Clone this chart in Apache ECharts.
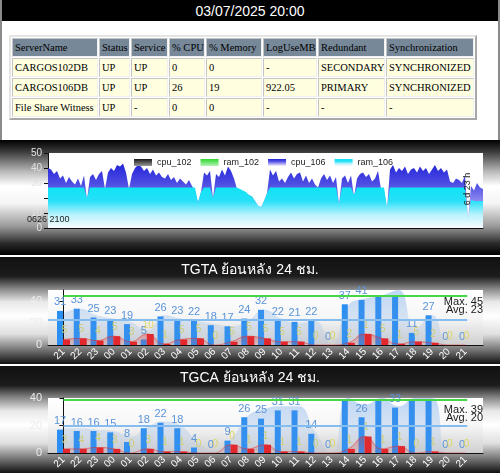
<!DOCTYPE html>
<html>
<head>
<meta charset="utf-8">
<script src="https://cdn.jsdelivr.net/npm/echarts@6/dist/echarts.min.js"></script>
<style>
html, body { margin: 0; padding: 0; background: #fff; }
#page { position: relative; width: 500px; height: 473px; overflow: hidden; background: #fff; }
#frame { position: absolute; left: 0; top: 0; width: 500px; height: 141px; box-sizing: border-box; border: 2px solid #8a8a8a; border-bottom: none; }
#head { position: absolute; left: 2px; top: 0; width: 496px; height: 21px; background: #000; color: #fff;
        font: 14px "Liberation Sans", Arial, sans-serif; text-align: center; line-height: 23px; }
#tbl { position: absolute; left: 9px; top: 35px; width: 468px; table-layout: fixed; border-collapse: separate; border-spacing: 1px;
       border: 2px solid; border-color: #e4e4e4 #a8a8a8 #a8a8a8 #e4e4e4;
       font: 10.5px "Liberation Serif", "Times New Roman", serif; color: #000; }
#tbl td { height: 17px; padding: 0 0 0 2px; border: 1px solid; border-color: #c4c4c4 #f0f0f0 #f0f0f0 #c4c4c4;
          background: #ffffe0; white-space: nowrap; overflow: hidden; }
#tbl tr.h td { background: #778899; }
.panel { position: absolute; left: 0; width: 500px; }
#p1 { top: 140px; height: 115px;
      background: linear-gradient(to bottom, #000 0%, #3a3a3a 10%, #bdbdbd 28%, #fff 40%, #f5f5f5 55%, #9a9a9a 75%, #2a2a2a 90%, #000 100%); }
#p2, #p3 { height: 107px;
      background: linear-gradient(to bottom, #111 0%, #1c1c1c 18%, #8a8a8a 30%, #e8e8e8 42%, #fff 55%, #e0e0e0 72%, #7a7a7a 86%, #111 100%); }
#p2 { top: 257px; }
#p3 { top: 366px; }
</style>
</head>
<body>
<div id="page">
  <div id="frame"></div>
  <div id="head">03/07/2025 20:00</div>
  <table id="tbl">
    <colgroup>
      <col style="width:86px"><col style="width:31px"><col style="width:37px"><col style="width:36px">
      <col style="width:56px"><col style="width:54px"><col style="width:67px"><col style="width:88px">
    </colgroup>
    <tr class="h"><td>ServerName</td><td>Status</td><td>Service</td><td>% CPU</td><td>% Memory</td><td>LogUseMB</td><td>Redundant</td><td>Synchronization</td></tr>
    <tr><td>CARGOS102DB</td><td>UP</td><td>UP</td><td>0</td><td>0</td><td>-</td><td>SECONDARY</td><td>SYNCHRONIZED</td></tr>
    <tr><td>CARGOS106DB</td><td>UP</td><td>UP</td><td>26</td><td>19</td><td>922.05</td><td>PRIMARY</td><td>SYNCHRONIZED</td></tr>
    <tr><td>File Share Witness</td><td>UP</td><td>-</td><td>0</td><td>0</td><td>-</td><td>-</td><td>-</td></tr>
  </table>
  <div id="p1" class="panel"></div>
  <div id="p2" class="panel"></div>
  <div id="p3" class="panel"></div>
</div>
<script>
// ---- performance chart (one point every ~70 min over 6 d 23 h)
const cpu102 = [];
const ram102 = [];
const cpu106 = [
  40, 39, 36, 38, 33, 35, 30, 34, 31, 29,
  33, 28, 35, 19, 34, 36, 32, 36, 38, 26,
  37, 40, 38, 42, 41, 43, 37, 26, 36, 40,
  42, 41, 38, 40, 36, 39, 35, 37, 34, 33,
  36, 32, 34, 30, 33, 31, 29, 32, 28, 25,
  17, 24, 37, 35, 38, 20, 36, 34, 39, 35,
  41, 38, 33, 26, 25, 24, 23, 22, 21, 18,
  15, 14, 18, 23, 39, 35, 38, 31, 33, 30,
  34, 37, 33, 36, 37, 31, 35, 30, 33, 29,
  27, 33, 36, 32, 35, 30, 34, 16, 33, 35,
  30, 35, 21, 33, 36, 37, 34, 36, 31, 33,
  38, 26, 25, 13, 39, 42, 37, 40, 38, 41,
  36, 39, 40, 37, 41, 38, 40, 36, 39, 42,
  38, 40, 37, 39, 31, 30, 33, 32, 30, 35,
  6, 28, 25, 30, 27, 26
];
const ram106 = [
  27, 27, 27, 27, 27, 27, 27, 27, 27, 27,
  27, 27, 27, 20, 27, 27, 27, 27, 27, 27,
  27, 27, 27, 27, 27, 27, 27, 27, 27, 27,
  27, 27, 27, 27, 27, 27, 27, 27, 27, 27,
  27, 27, 27, 27, 27, 27, 27, 27, 27, 27,
  17, 24, 27, 27, 27, 20, 27, 27, 27, 27,
  27, 27, 27, 27, 26, 25, 24, 22, 21, 18,
  15, 14, 18, 23, 27, 27, 27, 27, 27, 27,
  27, 27, 27, 27, 27, 27, 27, 27, 27, 27,
  27, 27, 27, 27, 27, 27, 27, 16, 27, 27,
  27, 27, 22, 27, 27, 27, 27, 27, 27, 27,
  27, 27, 27, 14, 27, 27, 27, 27, 27, 27,
  27, 27, 27, 27, 27, 27, 27, 27, 27, 27,
  27, 27, 27, 27, 27, 27, 27, 27, 27, 27,
  6, 19, 18, 18, 18, 18
];
const perfStart = '0626 2100';
const perfSpan = '6 d 23 h';

// ---- 24 hour charts
const hours = ['21', '22', '23', '00', '01', '02', '03', '04', '05', '06', '07', '08', '09',
               '10', '11', '12', '13', '14', '15', '16', '17', '18', '19', '20', '21'];

const tgtaBlue   = [31, 33, 25, 23, 19, 5, 26, 23, 22, 18, 17, 24, 32, 22, 21, 22, 0, 37, 41, 45, 45, 11, 27, 0, 0];
const tgtaRed    = [5, 6, 4, 8, 3, 10, 1, 5, 6, 0, 3, 8, 6, 3, 3, 0, 0, 2, 10, 6, 1, 3, 2, 0, 0];
const tgtaYellow = [5, 5, 4, 5, 3, 10, 1, 5, 5, 0, 5, 5, 5, 5, 5, 0, 0, 2, 1, 5, 1, 5, 2, 0, 0];
const tgtaArea   = [29, 33, 27, 24, 21, 13, 27, 24, 22, 19, 17, 22, 32, 24, 20, 22, 0, 36, 42, 45, 50, 15, 27, 0, 0];
const tgtaAvg = 23;

const tgcaBlue   = [17, 16, 16, 15, 8, 18, 22, 18, 4, 0, 9, 26, 25, 31, 31, 14, 0, 38, 26, 39, 33, 38, 39, 0, 0];
const tgcaRed    = [3, 3, 4, 3, 0, 3, 1, 1, 0, 0, 6, 3, 6, 1, 1, 0, 0, 3, 12, 3, 5, 0, 1, 0, 0];
const tgcaYellow = [3, 4, 4, 3, 0, 3, 1, 1, 0, 0, 0, 1, 1, 1, 1, 0, 0, 1, 1, 1, 1, 0, 1, 0, 0];
const tgcaArea   = [18, 18, 17, 16, 12, 19, 23, 20, 8, 2, 10, 27, 32, 34, 34, 16, 0, 40, 35, 40, 34, 40, 40, 0, 0];
const tgcaAvg = 20;

const grad = (stops) => new echarts.graphic.LinearGradient(0, 0, 0, 1,
  stops.map((c, i) => ({ offset: i / (stops.length - 1), color: c })));
const xy = arr => arr.map((v, i) => [i, v]);

// performance chart
(function () {
  const chart = echarts.init(document.getElementById('p1'));
  const look = {
    cpu_102: grad(['#1a1a1a', '#9a9a9a']),
    ram_102: grad(['#2ed82e', '#b4f2b4']),
    cpu_106: grad(['#2424d8', '#5050e4', '#a69ef2', '#f4f4ff']),
    ram_106: grad(['#10e4f4', '#26e0f8', '#b8f2fc', '#f6fcff'])
  };
  const mk = (name, data) => ({
    name, type: 'line', data: xy(data), symbol: 'none',
    lineStyle: { width: 0 },
    itemStyle: { color: look[name] },
    areaStyle: { color: look[name], opacity: 1 }
  });
  chart.setOption({
    animation: false,
    grid: { left: 48, right: 17, top: 13, bottom: 27, show: true, backgroundColor: '#fff', borderWidth: 0 },
    legend: {
      left: 129, top: 13, icon: 'rect', itemWidth: 18, itemHeight: 7, itemGap: 9,
      textStyle: { fontSize: 9, color: '#222', fontFamily: 'Liberation Sans, Arial' },
      data: ['cpu_102', 'ram_102', 'cpu_106', 'ram_106'].map(n => ({ name: n, itemStyle: { color: look[n] } }))
    },
    xAxis: {
      type: 'value', min: 0, max: cpu106.length - 1,
      axisLine: { lineStyle: { color: '#111' } }, axisTick: { show: false },
      axisLabel: { show: false }, splitLine: { show: false }
    },
    yAxis: {
      type: 'value', min: 0, max: 50, interval: 10,
      axisLine: { show: true, lineStyle: { color: '#111' } },
      axisTick: { show: true, length: 4, lineStyle: { color: '#111' } },
      axisLabel: { color: '#e2e2e2', fontSize: 10, margin: 6, fontFamily: 'Liberation Sans, Arial',
                   formatter: v => (v === 20 ? '' : v) },
      splitLine: { show: false }
    },
    graphic: [
      { type: 'text', left: 27, top: 75, z: 100,
        style: { text: perfStart, fill: '#222', font: '9px "Liberation Sans", Arial' } },
      { type: 'text', x: 468, y: 49, rotation: Math.PI / 2, z: 100,
        style: { text: perfSpan, fill: '#222', font: '9px "Liberation Sans", Arial', align: 'center', verticalAlign: 'middle' } }
    ],
    series: [mk('cpu_102', cpu102), mk('ram_102', ram102), mk('cpu_106', cpu106), mk('ram_106', ram106)]
  });
})();

function hourPanel(id, title, blue, red, yellow, area, avg, yMax, gridTop, avgFromAxis) {
  const chart = echarts.init(document.getElementById(id));
  const max = Math.max(...blue);
  const xMin = -0.925, xMax = 25.04;
  const last = hours.length - 1;
  chart.setOption({
    animation: false,
    title: {
      text: title, left: 'center', top: gridTop - 32,
      textStyle: { color: '#fff', fontSize: 14, fontWeight: 'normal', fontFamily: 'Liberation Sans, Arial, sans-serif' }
    },
    grid: {
      left: 48, right: 17, top: gridTop, bottom: 107 - gridTop - 55, show: true, borderWidth: 0,
      backgroundColor: grad(['#ffffff', '#f6f6f6', '#cfcfcf'])
    },
    xAxis: {
      type: 'value', min: xMin, max: xMax, splitLine: { show: false },
      axisLine: { lineStyle: { color: '#111' } }, axisTick: { show: false },
      axisLabel: {
        customValues: hours.map((h, i) => i), formatter: v => hours[v],
        rotate: 45, color: '#fff', fontSize: 10, margin: 5, fontFamily: 'Liberation Sans, Arial'
      }
    },
    yAxis: {
      type: 'value', min: 0, max: yMax, interval: 20, splitLine: { show: false },
      axisLine: { show: true, lineStyle: { color: '#111' } },
      axisTick: { show: true, length: 4, lineStyle: { color: '#111' } },
      axisLabel: { color: '#ececec', fontSize: 11, margin: 6, showMaxLabel: yMax % 20 === 0,
                   fontFamily: 'Liberation Sans, Arial' }
    },
    graphic: [
      { type: 'text', right: 17, top: gridTop + 6, z: 100,
        style: { text: 'Max. ' + max, fill: '#1a1a1a', font: '11px "Liberation Sans Narrow", "Liberation Sans", Arial' } },
      { type: 'text', right: 17, top: gridTop + 14, z: 100,
        style: { text: 'Avg. ' + avg, fill: '#1a1a1a', font: '11px "Liberation Sans Narrow", "Liberation Sans", Arial' } }
    ],
    series: [
      {
        type: 'line', data: xy(area), smooth: true, symbol: 'none',
        lineStyle: { width: 0 },
        areaStyle: { color: grad(['rgba(70,140,225,0.5)', 'rgba(90,150,225,0.3)', 'rgba(120,165,225,0.12)']) }
      },
      {
        type: 'bar', data: xy(blue), barWidth: 6, barGap: '0%',
        itemStyle: { color: '#2a8ef2' },
        label: {
          show: true, position: 'top', distance: 3, color: '#5a94d8', fontSize: 11, fontFamily: 'Liberation Sans, Arial',
          formatter: p => (p.value[1] > yMax - 6 ? '' : p.value[1])
        }
      },
      {
        type: 'bar', data: xy(red), barWidth: 7,
        itemStyle: { color: '#ec1a1a' },
        label: {
          show: true, position: 'top', distance: 4, offset: [-2, 0], color: '#ddd660', fontSize: 10,
          fontFamily: 'Liberation Sans, Arial', formatter: p => yellow[p.dataIndex]
        }
      },
      {
        type: 'line', data: xy(red), smooth: true, symbol: 'none',
        lineStyle: { width: 1, color: 'rgba(230,40,40,0.5)' },
        areaStyle: { color: grad(['rgba(235,40,40,0.5)', 'rgba(235,40,40,0.12)']) },
        markLine: {
          silent: true, symbol: 'none', label: { show: false }, animation: false,
          data: [
            [{ coord: [0, max], lineStyle: { color: '#46d646', width: 2, type: 'solid' } }, { coord: [last + 0.1, max] }],
            [{ coord: [avgFromAxis ? xMin : 0, avg], lineStyle: { color: '#86bdf0', width: 2, type: 'solid' } }, { coord: [last + 0.1, avg] }]
          ]
        }
      }
    ]
  });
}

hourPanel('p2', 'TGTA ย้อนหลัง 24 ชม.', tgtaBlue, tgtaRed, tgtaYellow, tgtaArea, tgtaAvg, 50, 33, true);
hourPanel('p3', 'TGCA ย้อนหลัง 24 ชม.', tgcaBlue, tgcaRed, tgcaYellow, tgcaArea, tgcaAvg, 40, 32, false);
</script>
</body>
</html>
